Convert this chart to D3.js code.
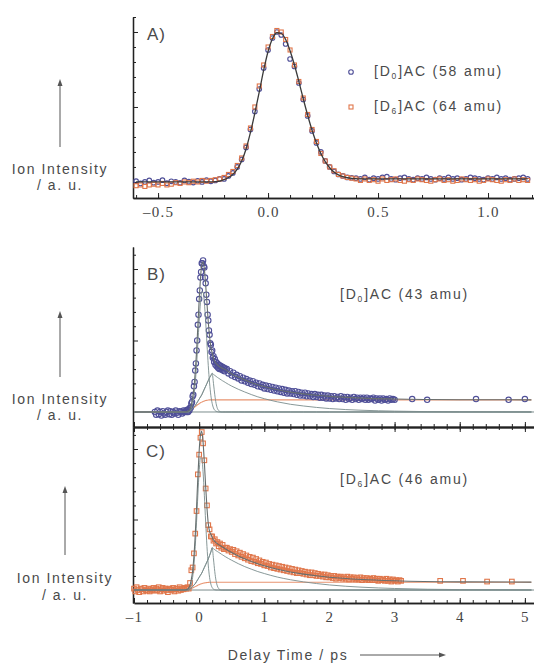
<!DOCTYPE html>
<html><head><meta charset="utf-8">
<script src="https://cdn.jsdelivr.net/npm/d3@7"></script>
<style>body{margin:0;background:#fff}</style>
</head><body><svg id="c" width="534" height="664" xmlns="http://www.w3.org/2000/svg"></svg>
<script>
// ---------- Panel A data ----------
const tA = [-0.60,-0.58,-0.56,-0.54,-0.52,-0.50,-0.48,-0.46,-0.44,-0.42,-0.40,-0.38,-0.36,-0.34,-0.32,-0.30,-0.28,-0.26,-0.24,-0.22,
 -0.20,-0.18,-0.16,-0.14,-0.12,-0.10,-0.08,-0.06,-0.04,-0.02,
 0.00,0.02,0.04,0.06,0.08,0.10,0.12,0.14,0.16,0.18,0.20,0.22,0.24,0.26,0.28,0.30,0.32,0.34,0.36,0.38,0.40,
 0.42,0.44,0.46,0.48,0.50,0.52,0.54,0.56,0.58,0.60,0.62,0.64,0.66,0.68,0.70,0.72,0.74,0.76,0.78,0.80,
 0.82,0.84,0.86,0.88,0.90,0.92,0.94,0.96,0.98,1.00,1.02,1.04,1.06,1.08,1.10,1.12,1.14,1.16,1.18];
const blueA = [0.005,-0.01,0.0,0.01,-0.005,0.0,0.012,-0.008,0.004,0.0,-0.006,0.01,0.002,-0.004,0.008,0.0,0.012,0.004,0.01,0.02,
 0.02,0.04,0.06,0.10,0.15,0.23,0.35,0.47,0.62,0.76,
 0.88,0.96,1.0,0.98,0.92,0.82,0.77,0.66,0.55,0.44,0.34,0.26,0.2,0.14,0.1,0.07,0.05,0.04,0.03,0.028,0.025,
 0.02,0.03,0.015,0.025,0.02,0.03,0.035,0.02,0.015,0.025,0.03,0.02,0.015,0.025,0.02,0.03,0.02,0.015,0.025,0.02,
 0.03,0.02,0.025,0.015,0.02,0.03,0.025,0.02,0.015,0.025,0.02,0.03,0.02,0.025,0.015,0.02,0.025,0.03,0.02];
const orangeA = [-0.025,-0.02,-0.03,-0.02,-0.015,-0.02,-0.01,-0.02,-0.015,-0.005,-0.01,0.0,-0.005,0.005,0.0,0.01,0.005,0.01,0.015,0.02,
 0.03,0.05,0.07,0.11,0.16,0.24,0.36,0.5,0.64,0.78,
 0.9,0.97,1.01,1.0,0.95,0.88,0.78,0.67,0.56,0.45,0.35,0.27,0.19,0.14,0.1,0.075,0.05,0.04,0.03,0.025,0.02,
 0.01,0.02,0.01,0.015,0.005,0.02,0.01,0.015,0.02,0.01,0.005,0.015,0.01,0.02,0.015,0.01,0.005,0.015,0.02,0.01,
 0.015,0.005,0.01,0.02,0.015,0.01,0.015,0.005,0.01,0.02,0.015,0.01,0.005,0.015,0.01,0.02,0.01,0.015,0.01];
const fitA = [0,0,0,0,0,0,0,0,0,0,0,0,0,0,0,0,0,0,0.002,0.006,
 0.015,0.03,0.05,0.085,0.14,0.22,0.33,0.46,0.60,0.745,
 0.87,0.955,0.995,0.99,0.95,0.875,0.78,0.67,0.555,0.445,0.345,0.26,0.19,0.135,0.095,0.066,0.047,0.035,0.028,0.024,0.022,
 0.02,0.02,0.02,0.02,0.02,0.02,0.02,0.02,0.02,0.02,0.02,0.02,0.02,0.02,0.02,0.02,0.02,0.02,0.02,0.02,
 0.02,0.02,0.02,0.02,0.02,0.02,0.02,0.02,0.02,0.02,0.02,0.02,0.02,0.02,0.02,0.02,0.02,0.02,0.02];

// ---------- Panel B data ----------
const tB = [-0.68,-0.66,-0.64,-0.62,-0.60,-0.58,-0.56,-0.54,-0.52,-0.50,-0.48,-0.46,-0.44,-0.42,-0.40,-0.38,-0.36,-0.34,-0.32,-0.30,-0.28,-0.26,-0.24,-0.22,
 -0.20,-0.19,-0.18,-0.17,-0.16,-0.15,-0.14,-0.13,-0.12,-0.11,
 -0.10,-0.09,-0.08,-0.07,-0.06,-0.05,-0.04,-0.03,-0.02,-0.01,
 0.00,0.01,0.02,0.03,0.04,0.05,0.06,0.07,0.08,0.09,
 0.10,0.11,0.12,0.13,0.14,0.15,0.16,0.17,0.18,0.19,
 0.20,0.21,0.22,0.23,0.24,0.25,0.26,0.27,0.28,0.29,
 0.30,0.31,0.32,0.33,0.34,0.35,0.36,0.37,0.38,0.39,0.40,
 0.425,0.45,0.475,0.5,0.525,0.55,0.575,0.6,0.625,0.65,
 0.675,0.7,0.725,0.75,0.775,0.8,0.825,0.85,0.875,0.9,
 0.925,0.95,0.975,1.0,1.025,1.05,1.075,1.1,1.125,1.15,
 1.175,1.2,1.225,1.25,1.275,1.3,1.325,1.35,1.375,1.4,
 1.425,1.45,1.475,1.5,1.525,1.55,1.575,1.6,1.625,1.65,
 1.675,1.7,1.725,1.75,1.775,1.8,1.825,1.85,1.875,1.9,
 1.925,1.95,1.975,2.0,
 2.025,2.05,2.075,2.1,2.125,2.15,2.175,2.2,2.225,2.25,
 2.275,2.3,2.325,2.35,2.375,2.4,2.425,2.45,2.475,2.5,
 2.525,2.55,2.575,2.6,2.625,2.65,2.675,2.7,2.725,2.75,
 2.775,2.8,2.825,2.85,2.875,2.9,2.925,2.95,2.975,3.0,
 3.27,3.50,4.25,4.75,5.00];
const blueB = [0.0,-0.02,0.01,-0.015,0.0,-0.025,0.005,-0.01,-0.02,0.0,0.01,-0.015,0.005,-0.02,0.0,-0.01,0.01,-0.005,-0.02,0.005,0.0,-0.01,0.01,0.0,
 0.01,0.0,0.015,0.0,0.02,0.01,0.03,0.03,0.06,0.07,
 0.11,0.12,0.18,0.21,0.29,0.34,0.43,0.5,0.61,0.68,
 0.79,0.85,0.94,0.98,1.04,1.04,1.06,1.02,1.01,0.94,
 0.9,0.82,0.77,0.68,0.64,0.57,0.54,0.48,0.47,0.42,
 0.43,0.38,0.39,0.35,0.37,0.33,0.35,0.32,0.34,0.31,
 0.33,0.3,0.325,0.3,0.32,0.295,0.315,0.29,0.31,0.285,0.305,
 0.30,0.27,0.285,0.255,0.275,0.245,0.26,0.235,0.25,0.22,
 0.24,0.215,0.23,0.205,0.22,0.195,0.215,0.19,0.205,0.18,
 0.2,0.175,0.19,0.165,0.185,0.16,0.18,0.155,0.175,0.15,
 0.17,0.145,0.165,0.14,0.16,0.135,0.155,0.13,0.15,0.13,
 0.145,0.125,0.145,0.12,0.14,0.115,0.135,0.115,0.135,0.11,
 0.13,0.11,0.125,0.105,0.125,0.105,0.12,0.1,0.12,0.1,
 0.115,0.095,0.115,0.095,
 0.11,0.09,0.11,0.095,0.105,0.09,0.11,0.09,0.105,0.085,
 0.105,0.09,0.1,0.085,0.105,0.09,0.1,0.085,0.1,0.09,
 0.1,0.085,0.1,0.085,0.095,0.09,0.1,0.08,0.095,0.085,
 0.095,0.08,0.095,0.085,0.09,0.08,0.095,0.085,0.09,0.085,
 0.09,0.085,0.09,0.085,0.09];

// ---------- Panel C data ----------
const tC = [-1.00,-0.98,-0.96,-0.94,-0.92,-0.90,-0.88,-0.86,-0.84,-0.82,-0.80,-0.78,-0.76,-0.74,-0.72,-0.70,-0.68,-0.66,-0.64,-0.62,
 -0.60,-0.58,-0.56,-0.54,-0.52,-0.50,-0.48,-0.46,-0.44,-0.42,-0.40,-0.38,-0.36,-0.34,-0.32,-0.30,-0.28,-0.26,-0.24,-0.22,
 -0.20,-0.18,-0.16,-0.14,-0.12,-0.10,-0.08,-0.06,-0.04,-0.02,0.00,0.02,0.04,0.06,0.08,0.10,0.12,0.14,0.16,0.18,
 0.20,0.22,0.24,0.26,0.28,0.30,0.32,0.34,0.36,0.38,0.40,
 0.425,0.45,0.475,0.5,0.525,0.55,0.575,0.6,0.625,0.65,
 0.675,0.7,0.725,0.75,0.775,0.8,0.825,0.85,0.875,0.9,
 0.925,0.95,0.975,1.0,1.025,1.05,1.075,1.1,1.125,1.15,
 1.175,1.2,1.225,1.25,1.275,1.3,1.325,1.35,1.375,1.4,
 1.425,1.45,1.475,1.5,1.525,1.55,1.575,1.6,1.625,1.65,
 1.675,1.7,1.725,1.75,1.775,1.8,1.825,1.85,1.875,1.9,
 1.925,1.95,1.975,2.0,
 2.025,2.05,2.075,2.1,2.125,2.15,2.175,2.2,2.225,2.25,
 2.275,2.3,2.325,2.35,2.375,2.4,2.425,2.45,2.475,2.5,
 2.525,2.55,2.575,2.6,2.625,2.65,2.675,2.7,2.725,2.75,
 2.775,2.8,2.825,2.85,2.875,2.9,2.925,2.95,2.975,3.0,
 3.025,3.05,3.075,3.1,
 3.70,4.05,4.42,4.80];
const orangeC = [0.01,-0.01,0.02,0.0,-0.015,0.01,0.005,-0.01,0.015,0.0,
 -0.005,0.01,-0.01,0.005,0.0,0.015,-0.005,0.01,0.0,0.02,
 -0.01,0.005,0.015,-0.005,0.01,0.0,-0.015,0.01,0.005,0.0,
 0.015,-0.01,0.005,0.01,-0.005,0.02,0.0,0.01,0.005,0.015,
 0.01,0.02,0.01,0.05,0.14,0.16,0.26,0.4,0.56,0.82,0.96,1.08,1.12,1.04,0.92,0.72,0.6,0.46,0.43,0.38,
 0.38,0.35,0.36,0.33,0.34,0.31,0.33,0.30,0.32,0.29,0.30,
 0.30,0.28,0.29,0.27,0.285,0.255,0.275,0.245,0.265,0.235,
 0.255,0.225,0.245,0.215,0.235,0.205,0.23,0.2,0.22,0.19,
 0.21,0.185,0.2,0.175,0.195,0.17,0.185,0.16,0.18,0.155,
 0.175,0.15,0.17,0.145,0.165,0.14,0.16,0.135,0.155,0.13,
 0.15,0.125,0.145,0.12,0.14,0.12,0.135,0.115,0.13,0.11,
 0.125,0.105,0.125,0.105,0.12,0.1,0.115,0.1,0.11,0.095,
 0.11,0.09,0.105,0.09,
 0.1,0.085,0.1,0.08,0.095,0.085,0.095,0.08,0.09,0.08,
 0.095,0.075,0.09,0.08,0.09,0.075,0.085,0.075,0.09,0.07,
 0.085,0.075,0.085,0.07,0.08,0.07,0.085,0.07,0.08,0.065,
 0.08,0.07,0.075,0.065,0.08,0.065,0.075,0.06,0.075,0.065,
 0.07,0.06,0.07,0.065,
 0.065,0.065,0.06,0.06];

// ---------- Fit curves for B and C ----------
const fitT = [-1.0,-0.3,-0.25,-0.2,-0.18,-0.16,-0.14,-0.12,-0.1,-0.08,-0.06,-0.04,-0.02,
 0,0.02,0.04,0.06,0.08,0.1,0.12,0.14,0.16,0.18,0.2,0.22,0.24,0.26,0.28,0.3,0.32,0.34,0.36,0.38,0.4,
 0.5,0.6,0.7,0.8,0.9,1.0,1.2,1.4,1.6,1.8,2.0,2.5,3.0,4.0,5.1];
const totalB = [0,0,0,0.001,0.005,0.01,0.02,0.05,0.10,0.17,0.28,0.42,0.60,
 0.78,0.93,1.03,1.05,1.0,0.89,0.76,0.63,0.53,0.455,0.415,0.376,0.353,0.339,0.329,0.321,0.315,0.309,0.304,0.30,0.297,
 0.266,0.244,0.225,0.207,0.191,0.178,0.156,0.139,0.127,0.117,0.109,0.097,0.091,0.086,0.085];
const gaussB = [0,0,0,0,0.002,0.005,0.012,0.028,0.06,0.115,0.203,0.326,0.476,
 0.632,0.764,0.84,0.84,0.764,0.632,0.476,0.326,0.203,0.115,0.06,0.028,0.012,0.005,0.002,0,0,0,0,0,0,
 0,0,0,0,0,0,0,0,0,0,0,0,0,0,0];
const triB = [0,0,0,0,0,0,0.005,0.015,0.025,0.035,0.045,0.06,0.075,
 0.09,0.105,0.12,0.14,0.16,0.18,0.20,0.22,0.24,0.255,0.27,0.2,0.12,0.06,0.025,0.01,0.003,0,0,0,0,
 0,0,0,0,0,0,0,0,0,0,0,0,0,0,0];
const slowB = [0,0,0,0,0,0,0.005,0.015,0.025,0.035,0.045,0.06,0.075,
 0.09,0.105,0.12,0.14,0.16,0.18,0.20,0.22,0.24,0.255,0.27,0.263,0.256,0.249,0.242,0.236,0.23,0.224,0.218,0.213,0.207,
 0.181,0.159,0.14,0.122,0.106,0.093,0.071,0.054,0.042,0.032,0.024,0.012,0.006,0.001,0];
const plateauB = [0,0,0,0.001,0.003,0.006,0.01,0.016,0.022,0.03,0.037,0.045,0.052,
 0.058,0.064,0.069,0.073,0.077,0.08,0.082,0.084,0.085,0.085,0.085,0.085,0.085,0.085,0.085,0.085,0.085,0.085,0.085,0.085,0.085,
 0.085,0.085,0.085,0.085,0.085,0.085,0.085,0.085,0.085,0.085,0.085,0.085,0.085,0.085,0.085];
const totalC = [0,0,0,0.002,0.006,0.015,0.035,0.075,0.137,0.239,0.391,0.583,0.80,
 0.984,1.10,1.125,1.05,0.905,0.735,0.584,0.472,0.415,0.397,0.372,0.355,0.345,0.336,0.328,0.322,0.316,0.31,0.305,0.299,0.293,
 0.266,0.242,0.221,0.203,0.186,0.172,0.147,0.128,0.113,0.101,0.091,0.075,0.066,0.058,0.056];
const gaussC = [0,0,0,0,0.002,0.006,0.017,0.042,0.09,0.177,0.309,0.481,0.672,
 0.838,0.937,0.937,0.838,0.672,0.481,0.309,0.177,0.09,0.042,0.017,0.006,0.002,0,0,0,0,0,0,0,0,
 0,0,0,0,0,0,0,0,0,0,0,0,0,0,0];
const triC = [0,0,0,0,0,0,0.005,0.015,0.025,0.035,0.045,0.06,0.075,
 0.09,0.105,0.12,0.14,0.16,0.18,0.2,0.22,0.245,0.27,0.30,0.22,0.13,0.065,0.028,0.01,0.003,0,0,0,0,
 0,0,0,0,0,0,0,0,0,0,0,0,0,0,0];
const slowC = [0,0,0,0,0,0,0.005,0.015,0.025,0.035,0.045,0.06,0.075,
 0.09,0.105,0.12,0.14,0.16,0.18,0.2,0.22,0.245,0.27,0.30,0.293,0.286,0.279,0.273,0.267,0.261,0.255,0.249,0.243,0.237,
 0.211,0.187,0.166,0.148,0.131,0.117,0.092,0.073,0.058,0.046,0.036,0.02,0.011,0.003,0.001];
const plateauC = [0,0,0,0.001,0.002,0.004,0.007,0.01,0.014,0.019,0.024,0.029,0.034,
 0.038,0.042,0.045,0.048,0.05,0.052,0.053,0.054,0.055,0.055,0.055,0.055,0.055,0.055,0.055,0.055,0.055,0.055,0.055,0.055,0.055,
 0.055,0.055,0.055,0.055,0.055,0.055,0.055,0.055,0.055,0.055,0.055,0.055,0.055,0.055,0.055];

// ---------- Tick values & labels ----------
const xTicksAMinor = [-0.6,-0.5,-0.4,-0.3,-0.2,-0.1,0,0.1,0.2,0.3,0.4,0.5,0.6,0.7,0.8,0.9,1.0,1.1,1.2];
const xTicksAMajor = [-0.5,0,0.5,1.0];
const xTicksBCMinor = [-1,-0.8,-0.6,-0.4,-0.2,0,0.2,0.4,0.6,0.8,1,1.2,1.4,1.6,1.8,2,2.2,2.4,2.6,2.8,3,3.2,3.4,3.6,3.8,4,4.2,4.4,4.6,4.8,5];
const xTicksBCMajor = [-1,0,1,2,3,4,5];
const yTicksMinor = [0,0.1,0.2,0.3,0.4,0.6,0.7,0.8,0.9,1.1];
const yTicksMajor = [0,0.5,1.0];
const legendA = [{sub:"0", rest:"]AC (58 amu)", kind:"circle"},{sub:"6", rest:"]AC (64 amu)", kind:"square"}];
const labelB = {sub:"0", rest:"]AC (43 amu)"};
const labelC = {sub:"6", rest:"]AC (46 amu)"};
const yTitle = ["Ion Intensity","/ a. u."];
const xTitle = "Delay Time / ps";

// ---------- Styles ----------
const BLUE = "#4f4f98", ORANGE = "#e0764a", FIT = "#3a3a3a", COMP = "#7b8c8c", ORLINE = "#e89470", AX = "#222";
const SANS = "'Liberation Sans', Arial, sans-serif", SERIF = "'Liberation Serif', 'Times New Roman', serif";
const TXT = "#4a4a4a";

const svg = d3.select("#c");

// Scales
const xA = d3.scaleLinear().domain([-0.614, 1.209]).range([133, 534]);
const yA = d3.scaleLinear().domain([-0.107, 1.1]).range([198, 17]);
const xBC = d3.scaleLinear().domain([-1, 5.14]).range([134, 534]);
const yB = d3.scaleLinear().domain([-0.105, 1.154]).range([427, 247]);
const yC = d3.scaleLinear().domain([-0.092, 1.156]).range([603, 427]);

const dashFmt = f => (v => f(v).replace("\u2212", "\u2013"));

function styleAxis(g){
  g.selectAll(".domain").attr("stroke", AX).attr("stroke-width", 1.3);
  g.selectAll(".tick line").attr("stroke", AX).attr("stroke-width", 1);
}
function yAxis(y, x0){
  const g1 = svg.append("g").attr("transform",`translate(${x0},0)`)
    .call(d3.axisLeft(y).tickValues(yTicksMinor).tickSize(-3).tickSizeOuter(0).tickFormat(""));
  styleAxis(g1);
  const g2 = svg.append("g").attr("transform",`translate(${x0},0)`)
    .call(d3.axisLeft(y).tickValues(yTicksMajor).tickSize(-5).tickSizeOuter(0).tickFormat(""));
  styleAxis(g2);
}
function xAxis(x, y0, minor, major, fmt, dir, labels){
  const mk = dir === "up" ? d3.axisBottom : d3.axisTop;
  const g1 = svg.append("g").attr("transform",`translate(0,${y0})`)
    .call(mk(x).tickValues(minor).tickSize(-3).tickSizeOuter(0).tickFormat(""));
  styleAxis(g1);
  const g2 = svg.append("g").attr("transform",`translate(0,${y0})`)
    .call(mk(x).tickValues(major).tickSize(-5).tickSizeOuter(0).tickPadding(8).tickFormat(labels ? fmt : ""));
  styleAxis(g2);
  g2.selectAll("text").attr("font-family", SERIF).attr("font-size", 15).style("letter-spacing", "1.2px").attr("fill", "#444");
}

// Axes
yAxis(yA, 133);
xAxis(xA, 198, xTicksAMinor, xTicksAMajor, dashFmt(d3.format(".1f")), "up", true);
yAxis(yB, 133);
xAxis(xBC, 427, xTicksBCMinor, xTicksBCMajor, d3.format("d"), "up", false);
xAxis(xBC, 427, xTicksBCMinor, xTicksBCMajor, d3.format("d"), "down", false);
yAxis(yC, 133);
xAxis(xBC, 603, xTicksBCMinor, xTicksBCMajor, dashFmt(d3.format("d")), "up", true);

// Markers
function circles(x, y, ts, vs, r, color){
  svg.append("g").selectAll("circle").data(d3.zip(ts, vs)).join("circle")
    .attr("cx", d => x(d[0])).attr("cy", d => y(d[1])).attr("r", r)
    .attr("fill", "none").attr("stroke", color).attr("stroke-width", 1.1);
}
function squares(x, y, ts, vs, s, color){
  svg.append("g").selectAll("rect").data(d3.zip(ts, vs)).join("rect")
    .attr("x", d => x(d[0]) - s/2).attr("y", d => y(d[1]) - s/2).attr("width", s).attr("height", s)
    .attr("fill", "none").attr("stroke", color).attr("stroke-width", 1.1);
}
function curve(x, y, ts, vs, color, w){
  const line = d3.line().x(d => x(d[0])).y(d => y(d[1])).curve(d3.curveMonotoneX);
  svg.append("path").datum(d3.zip(ts, vs)).attr("d", line)
    .attr("fill", "none").attr("stroke", color).attr("stroke-width", w);
}

// Panel A
circles(xA, yA, tA, blueA, 2.3, BLUE);
squares(xA, yA, tA, orangeA, 4, ORANGE);
curve(xA, yA, tA, fitA, FIT, 1.3);

// Panel B
const zeroT = [-1, 5.14], zeroV = [0, 0];
curve(xBC, yB, zeroT, zeroV, COMP, 1);
curve(xBC, yB, fitT, plateauB, ORLINE, 1.1);
circles(xBC, yB, tB, blueB, 2.7, BLUE);
curve(xBC, yB, fitT, triB, COMP, 0.9);
curve(xBC, yB, fitT, slowB, COMP, 0.9);
curve(xBC, yB, fitT, gaussB, COMP, 0.9);
curve(xBC, yB, fitT, totalB, "#666e6e", 1.1);

// Panel C
curve(xBC, yC, zeroT, zeroV, COMP, 1);
curve(xBC, yC, fitT, plateauC, ORLINE, 1.1);
squares(xBC, yC, tC, orangeC, 4.6, ORANGE);
curve(xBC, yC, fitT, triC, COMP, 0.9);
curve(xBC, yC, fitT, slowC, COMP, 0.9);
curve(xBC, yC, fitT, gaussC, COMP, 0.9);
curve(xBC, yC, fitT, totalC, "#666e6e", 1.1);

// Text helpers
function sublabel(x0, y0, lab){
  const t = svg.append("text").attr("x", x0).attr("y", y0).attr("font-family", SANS).attr("font-size", 14).attr("fill", TXT);
  t.append("tspan").style("letter-spacing", "1.8px").text("[D");
  t.append("tspan").style("letter-spacing", "1.8px").attr("font-size", 8.5).attr("dy", 3).text(lab.sub);
  t.append("tspan").style("letter-spacing", "1.8px").attr("dy", -3).text(lab.rest);
}
function panelLetter(x0, y0, s){
  svg.append("text").attr("x", x0).attr("y", y0).attr("font-family", SANS).attr("font-size", 17)
    .style("letter-spacing", "1px").attr("fill", TXT).text(s);
}
function yTitleBlock(cx, y1, y2, aTop, aBot){
  svg.append("line").attr("x1", cx).attr("x2", cx).attr("y1", aBot).attr("y2", aTop + 6).attr("stroke", "#555").attr("stroke-width", 1);
  svg.append("path").attr("d", `M${cx},${aTop} L${cx-2.5},${aTop+7} L${cx+2.5},${aTop+7} Z`).attr("fill", "#555");
  svg.append("text").attr("x", cx).attr("y", y1).attr("text-anchor", "middle").attr("font-family", SANS).attr("font-size", 14)
    .style("letter-spacing", "1.6px").attr("fill", TXT).text(yTitle[0]);
  svg.append("text").attr("x", cx).attr("y", y2).attr("text-anchor", "middle").attr("font-family", SANS).attr("font-size", 14)
    .style("letter-spacing", "1.6px").attr("fill", TXT).text(yTitle[1]);
}

// Panel labels
panelLetter(147, 40, "A)");
panelLetter(147, 280, "B)");
panelLetter(146, 457, "C)");

// Legend A
legendA.forEach((d, i) => {
  const ly = 72 + i * 35;
  if (d.kind === "circle") svg.append("circle").attr("cx", 351).attr("cy", ly).attr("r", 2.3).attr("fill", "none").attr("stroke", BLUE).attr("stroke-width", 1.1);
  else svg.append("rect").attr("x", 349).attr("y", ly - 2).attr("width", 4).attr("height", 4).attr("fill", "none").attr("stroke", ORANGE).attr("stroke-width", 1.1);
  sublabel(374, ly + 4, d);
});
sublabel(340, 299, labelB);
sublabel(340, 484, labelC);

// Y titles
yTitleBlock(60, 174, 190, 79, 147);
yTitleBlock(60, 404, 420, 311, 377);
yTitleBlock(65, 583, 600, 486, 555);

// X title with arrow
svg.append("text").attr("x", 288).attr("y", 660).attr("text-anchor", "middle").attr("font-family", SANS).attr("font-size", 14)
  .style("letter-spacing", "1.6px").attr("fill", TXT).text(xTitle);
svg.append("line").attr("x1", 360).attr("x2", 440).attr("y1", 655).attr("y2", 655).attr("stroke", "#555").attr("stroke-width", 1);
svg.append("path").attr("d", "M446,655 L439,652.5 L439,657.5 Z").attr("fill", "#555");
</script>
</body></html>
